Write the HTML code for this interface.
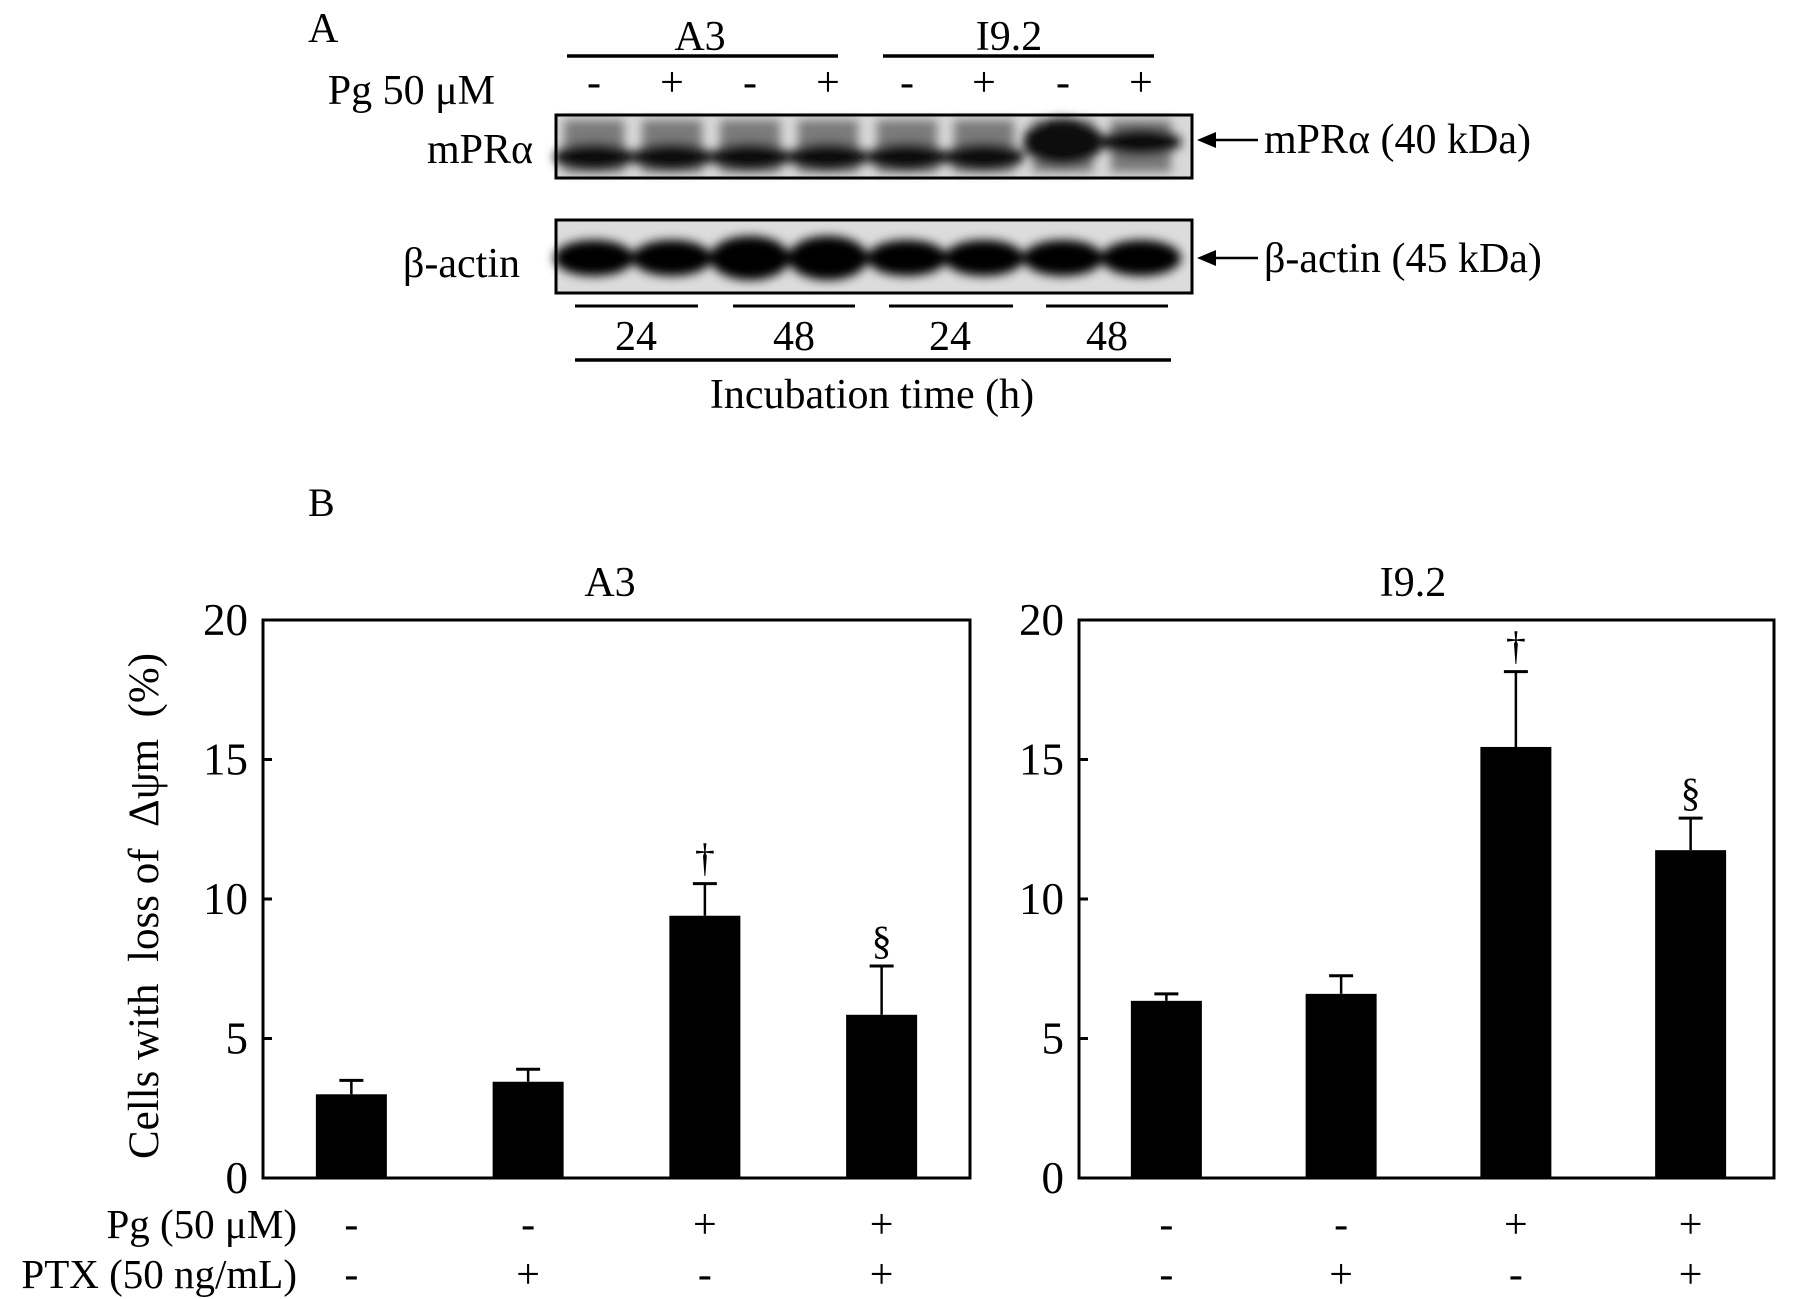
<!DOCTYPE html>
<html><head><meta charset="utf-8"><style>
html,body{margin:0;padding:0;background:#fff;}
svg{display:block;font-family:"Liberation Serif",serif;}
</style></head><body>
<svg id="fig" width="1795" height="1299" viewBox="0 0 1795 1299" xmlns="http://www.w3.org/2000/svg">
<defs>
<filter id="blur" x="-20%" y="-50%" width="140%" height="200%"><feGaussianBlur stdDeviation="5"/></filter>
</defs>
<!-- Panel A -->
<g font-size="42" fill="#000">
<text x="308" y="42">A</text>
<text x="700" y="50" text-anchor="middle">A3</text>
<line x1="567" y1="56" x2="838" y2="56" stroke="#000" stroke-width="3.5"/>
<text x="1009" y="50" text-anchor="middle">I9.2</text>
<line x1="883" y1="56" x2="1154" y2="56" stroke="#000" stroke-width="3.5"/>
<text x="495" y="104" text-anchor="end">Pg 50 μM</text>
<g id="signs"></g>
<rect x="556" y="115" width="636" height="63" fill="#d8d8d8" stroke="#000" stroke-width="3"/>
<g id="mprBands" filter="url(#blur)"></g>
<rect x="556" y="115" width="636" height="63" fill="none" stroke="#000" stroke-width="3"/>
<rect x="556" y="220" width="636" height="73" fill="#dcdcdc" stroke="#000" stroke-width="3"/>
<g id="actBands" filter="url(#blur)"></g>
<rect x="556" y="220" width="636" height="73" fill="none" stroke="#000" stroke-width="3"/>
<text x="533" y="163" text-anchor="end">mPRα</text>
<text x="520" y="277" text-anchor="end">β-actin</text>
<line x1="1212" y1="140" x2="1258" y2="140" stroke="#000" stroke-width="2.5"/>
<polygon points="1197,140 1216,132 1216,148" fill="#000"/>
<text x="1264" y="153">mPRα (40 kDa)</text>
<line x1="1212" y1="258" x2="1258" y2="258" stroke="#000" stroke-width="2.5"/>
<polygon points="1197,258 1216,250 1216,266" fill="#000"/>
<text x="1264" y="272">β-actin (45 kDa)</text>
<g stroke="#000" stroke-width="3">
<line x1="575" y1="306" x2="698" y2="306"/><line x1="733" y1="306" x2="855" y2="306"/>
<line x1="889" y1="306" x2="1013" y2="306"/><line x1="1046" y1="306" x2="1168" y2="306"/>
<line x1="575" y1="360" x2="1171" y2="360" stroke-width="3.5"/>
</g>
<text x="636" y="350" text-anchor="middle">24</text>
<text x="794" y="350" text-anchor="middle">48</text>
<text x="950" y="350" text-anchor="middle">24</text>
<text x="1107" y="350" text-anchor="middle">48</text>
<text x="872" y="408" text-anchor="middle">Incubation time (h)</text>
</g>
<!-- Panel B -->
<text x="308" y="516" font-size="40">B</text>
<text transform="translate(158,906) rotate(-90)" text-anchor="middle" font-size="43" xml:space="preserve">Cells with  loss of  Δψm  (%)</text>
<text x="297" y="1238" text-anchor="end" font-size="41">Pg (50 μM)</text>
<text x="297" y="1288" text-anchor="end" font-size="41">PTX (50 ng/mL)</text>
<g id="charts"></g>
</svg>
<script>
const categories = ["Control", "PTX", "Pg", "Pg+PTX"];
const pgSigns = ["-", "-", "+", "+"];
const ptxSigns = ["-", "+", "-", "+"];
const a3Values = [3.0, 3.45, 9.4, 5.85];
const a3Errors = [0.5, 0.45, 1.15, 1.75];
const a3Marks = ["", "", "†", "§"];
const i92Values = [6.35, 6.6, 15.45, 11.75];
const i92Errors = [0.25, 0.65, 2.7, 1.15];
const i92Marks = ["", "", "†", "§"];
const yTicks = [0, 5, 10, 15, 20];
const blotSigns = ["-", "+", "-", "+", "-", "+", "-", "+"];

const NS = "http://www.w3.org/2000/svg";
function mk(tag, attrs, parent){const e=document.createElementNS(NS,tag);for(const k in attrs)e.setAttribute(k,attrs[k]);parent.appendChild(e);return e;}

const laneX = [594,672,750,828,907,984,1063,1141];
const sg = document.getElementById('signs');
blotSigns.forEach((s,i)=>{
  const t = mk('text',{x:laneX[i], y:96, 'text-anchor':'middle'}, sg);
  
  
  t.textContent = s;
});
const mb = document.getElementById('mprBands');
laneX.forEach((x,i)=>{
  const hi = i>=6;
  mk('rect',{x:x-30,y:120,width:60,height:52,fill:'#7a7a7a'},mb);
  const e = mk('ellipse',{cx:x, cy: hi?142:157, rx:40, ry: hi?(i==6?24:14):14, fill:'#0a0a0a'},mb);
  
  
});
const ab = document.getElementById('actBands');
laneX.forEach((x,i)=>{
  const e = mk('ellipse',{cx:x, cy:258, rx:40, ry:(i==2||i==3)?22:18, fill:'#050505'},ab);
  
  
});

const charts = document.getElementById('charts');
function drawChart(name, title, titleX, left, right, barRight, values, errors, marks){
  const top=620, bottom=1178, yMax=20;
  const y = v => bottom - v/yMax*(bottom-top);
  const band = (barRight-left)/categories.length;
  const x = i => left + band*(i+0.5);
  const g = mk('g',{},charts);
  
  
  const t = mk('text',{x:titleX, y:596, 'text-anchor':'middle','font-size':42},g);
  
  
  t.textContent = title;
  const frame = mk('rect',{x:left,y:top,width:right-left,height:bottom-top,fill:'none',stroke:'#000','stroke-width':3},g);
  
  
  yTicks.forEach(v=>{
    const tk = mk('line',{x1:left,x2:left+9,y1:y(v),y2:y(v),stroke:'#000','stroke-width':3},g);
    
    
    const lb = mk('text',{x:left-15,y:y(v)+15,'text-anchor':'end','font-size':45},g);
    
    
    lb.textContent = v;
  });
  const bw = 71;
  values.forEach((v,i)=>{
    const cx = x(i);
    const eb = mk('line',{x1:cx,x2:cx,y1:y(v),y2:y(v+errors[i]),stroke:'#000','stroke-width':2.5},g);
    
    
    const cap = mk('line',{x1:cx-12,x2:cx+12,y1:y(v+errors[i]),y2:y(v+errors[i]),stroke:'#000','stroke-width':3},g);
    
    
    const b = mk('rect',{x:cx-bw/2,y:y(v),width:bw,height:bottom-y(v),fill:'#000'},g);
    
    
    if(marks[i]){
      const m = mk('text',{x:cx,y:y(v+errors[i])-12,'text-anchor':'middle','font-size':40},g);
      
      
      m.textContent = marks[i];
    }
    const p = mk('text',{x:cx,y:1238,'text-anchor':'middle','font-size':42},g);
    
    
    p.textContent = pgSigns[i];
    const q = mk('text',{x:cx,y:1288,'text-anchor':'middle','font-size':42},g);
    
    
    q.textContent = ptxSigns[i];
  });
}
drawChart('chart-a3','A3',610,263,970,970,a3Values,a3Errors,a3Marks);
drawChart('chart-i92','I9.2',1413,1079,1774,1778,i92Values,i92Errors,i92Marks);
</script>
</body></html>
